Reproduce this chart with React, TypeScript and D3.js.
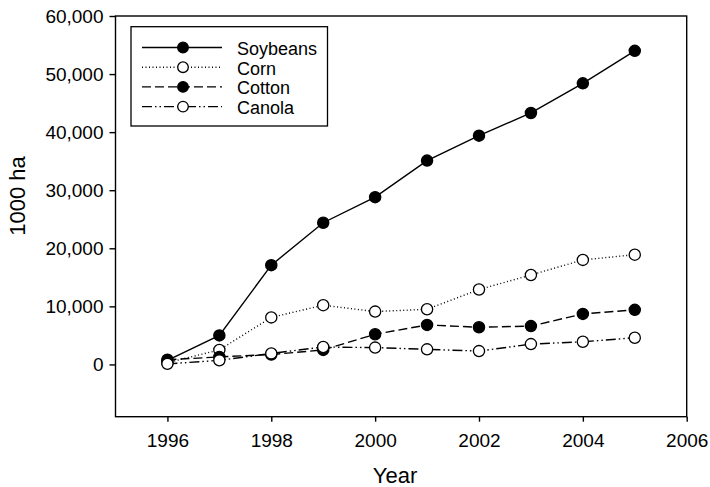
import { useEffect, useRef } from 'react';
import * as d3 from 'd3';

const years = [1996, 1997, 1998, 1999, 2000, 2001, 2002, 2003, 2004, 2005];
const soybeans = [700, 5000, 17100, 24400, 28800, 35100, 39400, 43300, 48400, 54000];
const corn = [300, 2500, 8100, 10200, 9100, 9500, 12900, 15400, 18000, 18900];
const cotton = [800, 1300, 1700, 2500, 5200, 6800, 6400, 6600, 8700, 9400];
const canola = [100, 700, 1900, 3000, 2900, 2600, 2300, 3500, 3900, 4600];
const seriesNames = ['Soybeans', 'Corn', 'Cotton', 'Canola'];
const yTicks = [0, 10000, 20000, 30000, 40000, 50000, 60000];
const xTicks = [1996, 1998, 2000, 2002, 2004, 2006];

const styles = [
  { dash: null, filled: true },
  { dash: '1,2.5', filled: false },
  { dash: '9,4', filled: true },
  { dash: '10,3,1.5,3,1.5,3', filled: false },
];

const App = () => {
  const svgRef = useRef<SVGSVGElement>(null);

  useEffect(() => {
    const svg = d3.select(svgRef.current);
    svg.selectAll('*').remove();

    const left = 115.5, right = 686.7, top = 16, bottom = 416.7;
    const x = d3.scaleLinear().domain([1995, 2006]).range([left, right]);
    const y = d3.scaleLinear().domain([-9000, 60000]).range([bottom, top]);
    const font = 'Liberation Sans, Arial, sans-serif';

    // frame
    svg.append('rect')
      .attr('x', left).attr('y', top)
      .attr('width', right - left).attr('height', bottom - top)
      .attr('fill', 'none').attr('stroke', '#000').attr('stroke-width', 1.4);

    // axes
    const yAxis = svg.append('g')
      .attr('transform', `translate(${left},0)`)
      .call(d3.axisLeft(y).tickValues(yTicks).tickSize(6).tickPadding(6).tickFormat(d3.format(',')));
    const xAxis = svg.append('g')
      .attr('transform', `translate(0,${bottom})`)
      .call(d3.axisBottom(x).tickValues(xTicks).tickSize(5).tickPadding(12).tickFormat(d3.format('d')));
    [yAxis, xAxis].forEach(a => {
      a.select('.domain').remove();
      a.selectAll('line').attr('stroke', '#000').attr('stroke-width', 1.4);
      a.selectAll('text').attr('font-family', font).attr('font-size', 19).attr('fill', '#000');
    });

    // titles
    svg.append('text')
      .attr('transform', `translate(25,196) rotate(-90)`)
      .attr('text-anchor', 'middle')
      .attr('font-family', font).attr('font-size', 22)
      .text('1000 ha');
    svg.append('text')
      .attr('x', 395).attr('y', 483)
      .attr('text-anchor', 'middle')
      .attr('font-family', font).attr('font-size', 22)
      .text('Year');

    // series
    const allSeries = [soybeans, corn, cotton, canola];
    const line = d3.line<number>().x((_, i) => x(years[i])).y(d => y(d));
    allSeries.forEach((vals, si) => {
      const st = styles[si];
      svg.append('path')
        .attr('d', line(vals))
        .attr('fill', 'none').attr('stroke', '#000').attr('stroke-width', 1.4)
        .attr('stroke-dasharray', st.dash);
    });
    allSeries.forEach((vals, si) => {
      const st = styles[si];
      svg.append('g').selectAll('circle')
        .data(vals)
        .enter()
        .append('circle')
        .attr('cx', (_, i) => x(years[i]))
        .attr('cy', d => y(d))
        .attr('r', 5.6)
        .attr('fill', st.filled ? '#000' : '#fff')
        .attr('stroke', '#000').attr('stroke-width', 1.3);
    });

    // legend
    const lg = svg.append('g');
    lg.append('rect')
      .attr('x', 131).attr('y', 26.7).attr('width', 196.5).attr('height', 99.3)
      .attr('fill', '#fff').attr('stroke', '#000').attr('stroke-width', 1.3);
    seriesNames.forEach((name, i) => {
      const st = styles[i];
      const ly = 47.5 + i * 19.7;
      lg.append('line')
        .attr('x1', 142).attr('x2', 222).attr('y1', ly).attr('y2', ly)
        .attr('stroke', '#000').attr('stroke-width', 1.4)
        .attr('stroke-dasharray', st.dash);
      lg.append('circle')
        .attr('cx', 183).attr('cy', ly).attr('r', 5.3)
        .attr('fill', st.filled ? '#000' : '#fff')
        .attr('stroke', '#000').attr('stroke-width', 1.3);
      lg.append('text')
        .attr('x', 237).attr('y', ly + 7.3)
        .attr('font-family', font).attr('font-size', 18)
        .text(name);
    });
  }, []);

  return (
    <svg ref={svgRef} width={710} height={487}
      style={{ position: 'absolute', left: 0, top: 0, background: '#fff' }} />
  );
};

export default App;
